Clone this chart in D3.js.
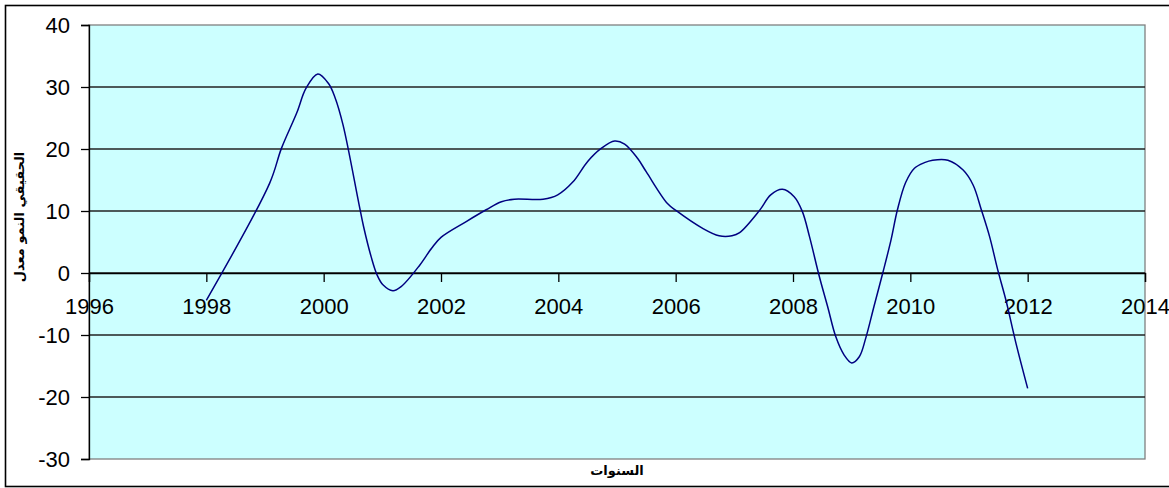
<!DOCTYPE html>
<html>
<head>
<meta charset="utf-8">
<script src="https://cdn.jsdelivr.net/npm/d3@7"></script>
<style>
  html, body { margin: 0; padding: 0; background: #fff; }
  svg { display: block; }
</style>
</head>
<body>
<svg id="chart" width="1169" height="488"></svg>
<script>
// Real growth rate (%) by year
const years = [
  1998.0, 1999.08, 1999.28, 1999.54, 1999.70, 1999.90, 2000.08, 2000.19, 2000.33, 2000.60,
  2000.68, 2000.81, 2000.91, 2001.01, 2001.18, 2001.32, 2001.64, 2001.84, 2002.0, 2002.43,
  2002.77, 2003.03, 2003.25, 2003.74, 2003.99, 2004.25, 2004.5, 2004.73, 2004.96, 2005.13,
  2005.35, 2005.5, 2005.86, 2006.01, 2006.46, 2006.74, 2006.96, 2007.09, 2007.43, 2007.62,
  2007.82, 2008.02, 2008.16, 2008.28, 2008.45, 2008.59, 2008.73, 2008.87, 2009.0, 2009.13,
  2009.24, 2009.38, 2009.53, 2009.67, 2009.78, 2009.92, 2010.07, 2010.24, 2010.38, 2010.64,
  2010.9, 2011.07, 2011.21, 2011.35, 2011.49, 2011.63, 2011.8, 2012.0
];
const growth = [
  -4.4, 14.5, 20.1, 25.8, 29.8, 32.1, 30.6, 28.4, 23.9, 11.2,
  7.5, 2.6, -0.3, -1.9, -2.85, -2.2, 1.3, 4.0, 5.75, 8.3,
  10.2, 11.5, 11.9, 11.9, 12.6, 14.7, 18.0, 20.1, 21.3, 20.8,
  18.5, 16.3, 11.2, 10.05, 7.2, 6.0, 6.0, 6.5, 10.1, 12.6,
  13.5, 12.3, 9.9, 5.9, -0.6, -5.4, -10.3, -13.2, -14.5, -13.5,
  -10.5, -5.4, 0, 5.3, 10.2, 14.6, 16.9, 17.8, 18.2, 18.2,
  16.6, 14.2, 10.2, 5.9, 0.5, -4.4, -11.3, -18.6
];
const xTicks = [1996, 1998, 2000, 2002, 2004, 2006, 2008, 2010, 2012, 2014];
const yTicks = [-30, -20, -10, 0, 10, 20, 30, 40];
const xTitle = "السنوات";
const yTitle = "الحقيقي النمو معدل";

const svg = d3.select("#chart");
const plot = { left: 89, right: 1145, top: 25, bottom: 459 };

const x = d3.scaleLinear().domain([1996, 2014]).range([plot.left, plot.right]);
const y = d3.scaleLinear().domain([-30, 40]).range([plot.bottom, plot.top]);
const plain = d => String(d);

// outer chart frame
svg.append("rect")
  .attr("x", 5.5).attr("y", 5.5)
  .attr("width", 1175).attr("height", 481)
  .attr("fill", "#fff").attr("stroke", "#000").attr("stroke-width", 1.6);

// plot area
svg.append("rect")
  .attr("x", plot.left).attr("y", plot.top)
  .attr("width", plot.right - plot.left).attr("height", plot.bottom - plot.top)
  .attr("fill", "#CCFFFF").attr("stroke", "#808080").attr("stroke-width", 1.3);

// horizontal gridlines
svg.append("g")
  .selectAll("line")
  .data(yTicks.filter(d => d > -30 && d < 40))
  .join("line")
  .attr("x1", plot.left).attr("x2", plot.right)
  .attr("y1", d => y(d)).attr("y2", d => y(d))
  .attr("stroke", "#222").attr("stroke-width", 1.3);

// y axis
const yAxis = svg.append("g")
  .attr("transform", `translate(${plot.left},0)`)
  .call(d3.axisLeft(y).tickValues(yTicks).tickSize(8).tickPadding(11).tickFormat(plain));
yAxis.select(".domain").attr("stroke", "#000").attr("stroke-width", 1.3);
yAxis.selectAll(".tick line").attr("stroke", "#000").attr("stroke-width", 1.3);
yAxis.selectAll(".tick text")
  .attr("fill", "#000")
  .style("font-family", "'Liberation Sans', Arial, sans-serif")
  .style("font-size", "22px");

// x axis crossing at zero
const xAxis = svg.append("g")
  .attr("transform", `translate(0,${y(0)})`)
  .call(d3.axisBottom(x).tickValues(xTicks).tickSize(9).tickPadding(16).tickFormat(plain));
xAxis.select(".domain").attr("stroke", "#000").attr("stroke-width", 1.3);
xAxis.selectAll(".tick line").attr("stroke", "#000").attr("stroke-width", 1.3);
xAxis.selectAll(".tick text")
  .attr("fill", "#000")
  .style("font-family", "'Liberation Sans', Arial, sans-serif")
  .style("font-size", "22px");

// growth line
const pts = years.map((yr, i) => [yr, growth[i]]);
svg.append("path")
  .datum(pts)
  .attr("fill", "none")
  .attr("stroke", "#000080")
  .attr("stroke-width", 1.5)
  .attr("d", d3.line().x(d => x(d[0])).y(d => y(d[1])).curve(d3.curveCatmullRom.alpha(0.5)));

// axis titles
svg.append("text")
  .attr("x", 617).attr("y", 475)
  .attr("text-anchor", "middle")
  .attr("direction", "rtl")
  .style("font-family", "'DejaVu Sans', sans-serif")
  .style("font-weight", "bold")
  .style("font-size", "13px")
  .text(xTitle);

svg.append("text")
  .attr("transform", "translate(24,217) rotate(-90)")
  .attr("text-anchor", "middle")
  .attr("direction", "rtl")
  .style("font-family", "'DejaVu Sans', sans-serif")
  .style("font-weight", "bold")
  .style("font-size", "13px")
  .text(yTitle);
</script>
</body>
</html>
